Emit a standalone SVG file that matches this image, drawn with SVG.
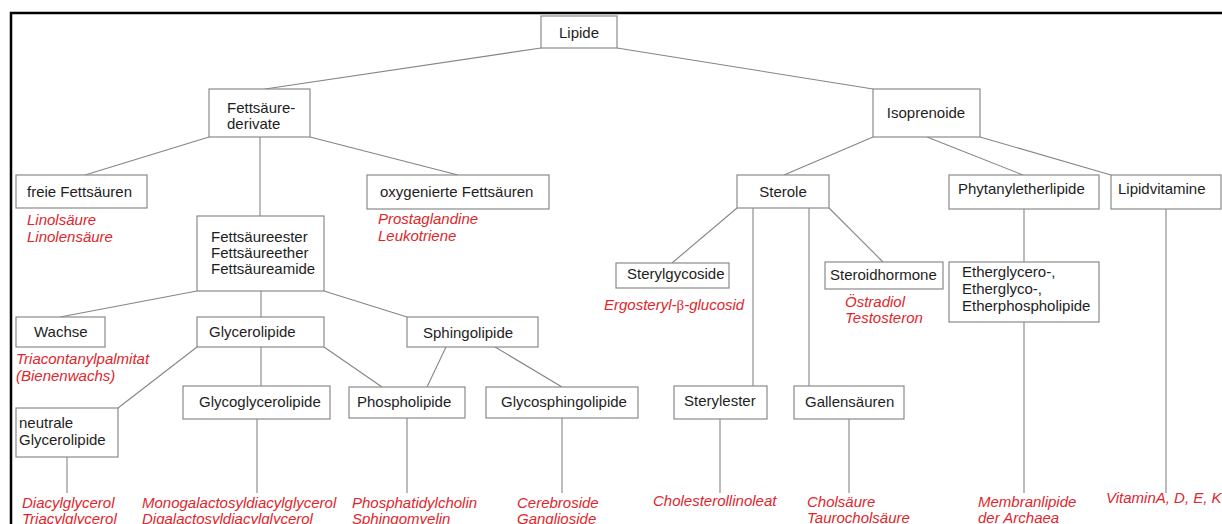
<svg xmlns="http://www.w3.org/2000/svg" width="1222" height="524" viewBox="0 0 1222 524">
<style>
.box{fill:#fff;stroke:#8a8a8a;stroke-width:1.2}
.t{font-family:"Liberation Sans",Arial,sans-serif;font-size:15px;fill:#1e1e1e}
.m{text-anchor:middle}
.r{font-family:"Liberation Sans",Arial,sans-serif;font-size:15px;font-style:italic;fill:#e0262c}
.c{stroke:#858585;stroke-width:1.1;fill:none}
.b{font-family:"Liberation Serif","Times New Roman",serif;font-style:normal}
</style>
<rect width="1222" height="524" fill="#fff"/>
<path d="M11,524 V13 H1222" fill="none" stroke="#000" stroke-width="2.5"/>
<g id="connectors">
<line class="c" x1="541" y1="48" x2="265" y2="89"/>
<line class="c" x1="617" y1="48" x2="873" y2="89"/>
<line class="c" x1="209" y1="137" x2="85" y2="175"/>
<line class="c" x1="260" y1="137" x2="260" y2="216"/>
<line class="c" x1="310" y1="137" x2="458" y2="175"/>
<line class="c" x1="873" y1="137" x2="784" y2="175"/>
<line class="c" x1="927" y1="137" x2="1023" y2="175"/>
<line class="c" x1="980" y1="137" x2="1111" y2="175"/>
<line class="c" x1="737" y1="208" x2="672" y2="263"/>
<line class="c" x1="753" y1="208" x2="753" y2="386"/>
<line class="c" x1="809" y1="208" x2="809" y2="386"/>
<line class="c" x1="829" y1="208" x2="883" y2="262"/>
<line class="c" x1="1024" y1="209" x2="1024" y2="262"/>
<line class="c" x1="1024" y1="322" x2="1024" y2="493"/>
<line class="c" x1="1166" y1="209" x2="1166" y2="493"/>
<line class="c" x1="197" y1="291" x2="60" y2="317"/>
<line class="c" x1="261" y1="291" x2="261" y2="317"/>
<line class="c" x1="324" y1="291" x2="407" y2="317"/>
<line class="c" x1="197" y1="347" x2="118" y2="408"/>
<line class="c" x1="261" y1="347" x2="261" y2="386"/>
<line class="c" x1="324" y1="347" x2="382" y2="387"/>
<line class="c" x1="446" y1="347" x2="427" y2="387"/>
<line class="c" x1="495" y1="347" x2="562" y2="387"/>
<line class="c" x1="67" y1="457" x2="67" y2="493"/>
<line class="c" x1="257" y1="419" x2="257" y2="493"/>
<line class="c" x1="407" y1="418" x2="407" y2="493"/>
<line class="c" x1="562" y1="418" x2="562" y2="493"/>
<line class="c" x1="720" y1="419" x2="720" y2="493"/>
<line class="c" x1="849" y1="419" x2="849" y2="493"/>
</g>
<g id="lipide"><rect class="box" x="541" y="16" width="76" height="32"/><text class="t m" x="579" y="38">Lipide</text></g>
<g id="fettsaeurederivate"><rect class="box" x="209" y="89" width="101" height="48"/><text class="t" x="227" y="113">Fettsäure-</text><text class="t" x="227" y="129">derivate</text></g>
<g id="isoprenoide"><rect class="box" x="873" y="89" width="107" height="48"/><text class="t m" x="926" y="118">Isoprenoide</text></g>
<g id="freie"><rect class="box" x="16" y="175" width="131" height="33"/><text class="t" x="27" y="197">freie Fettsäuren</text>
<text class="r" x="27" y="225">Linolsäure</text><text class="r" x="27" y="242">Linolensäure</text></g>
<g id="oxygenierte"><rect class="box" x="367" y="175" width="182" height="34"/><text class="t" x="380" y="197">oxygenierte Fettsäuren</text>
<text class="r" x="378" y="224">Prostaglandine</text><text class="r" x="378" y="241">Leukotriene</text></g>
<g id="fettsaeureester"><rect class="box" x="197" y="216" width="127" height="75"/><text class="t" x="211" y="242">Fettsäureester</text><text class="t" x="211" y="258">Fettsäureether</text><text class="t" x="211" y="274">Fettsäureamide</text></g>
<g id="sterole"><rect class="box" x="737" y="175" width="92" height="33"/><text class="t m" x="783" y="197">Sterole</text></g>
<g id="phytanyletherlipide"><rect class="box" x="949" y="175" width="150" height="34"/><text class="t" x="958" y="194">Phytanyletherlipide</text></g>
<g id="lipidvitamine"><rect class="box" x="1111" y="175" width="110" height="34"/><text class="t" x="1118" y="194">Lipidvitamine</text>
<text class="r" x="1106" y="503">VitaminA, D, E, K</text></g>
<g id="sterylgycoside"><rect class="box" x="616" y="263" width="113" height="25"/><text class="t" x="627" y="279">Sterylgycoside</text>
<text class="r" x="604" y="310">Ergosteryl-<tspan class="b">β</tspan>-glucosid</text></g>
<g id="steroidhormone"><rect class="box" x="825" y="262" width="118" height="27"/><text class="t" x="830" y="280">Steroidhormone</text>
<text class="r" x="845" y="307">Östradiol</text><text class="r" x="845" y="323">Testosteron</text></g>
<g id="etherlipide"><rect class="box" x="949" y="262" width="150" height="60"/><text class="t" x="962" y="277">Etherglycero-,</text><text class="t" x="962" y="294">Etherglyco-,</text><text class="t" x="962" y="311">Etherphospholipide</text>
<text class="r" x="978" y="507">Membranlipide</text><text class="r" x="978" y="523">der Archaea</text></g>
<g id="wachse"><rect class="box" x="16" y="317" width="89" height="30"/><text class="t" x="34" y="337">Wachse</text>
<text class="r" x="16" y="364">Triacontanylpalmitat</text><text class="r" x="16" y="381">(Bienenwachs)</text></g>
<g id="glycerolipide"><rect class="box" x="197" y="317" width="127" height="30"/><text class="t" x="209" y="337">Glycerolipide</text></g>
<g id="sphingolipide"><rect class="box" x="407" y="317" width="131" height="30"/><text class="t" x="423" y="338">Sphingolipide</text></g>
<g id="neutrale"><rect class="box" x="16" y="408" width="102" height="49"/><text class="t" x="19" y="428">neutrale</text><text class="t" x="19" y="445">Glycerolipide</text>
<text class="r" x="22" y="508">Diacylglycerol</text><text class="r" x="22" y="524">Triacylglycerol</text></g>
<g id="glycoglycerolipide"><rect class="box" x="183" y="386" width="147" height="33"/><text class="t" x="199" y="407">Glycoglycerolipide</text>
<text class="r" x="142" y="508">Monogalactosyldiacylglycerol</text><text class="r" x="142" y="524">Digalactosyldiacylglycerol</text></g>
<g id="phospholipide"><rect class="box" x="349" y="387" width="116" height="31"/><text class="t" x="357" y="407">Phospholipide</text>
<text class="r" x="352" y="508">Phosphatidylcholin</text><text class="r" x="352" y="524">Sphingomyelin</text></g>
<g id="glycosphingolipide"><rect class="box" x="486" y="387" width="152" height="31"/><text class="t" x="501" y="407">Glycosphingolipide</text>
<text class="r" x="517" y="508">Cerebroside</text><text class="r" x="517" y="524">Ganglioside</text></g>
<g id="sterylester"><rect class="box" x="674" y="386" width="93" height="33"/><text class="t" x="684" y="406">Sterylester</text>
<text class="r" x="653" y="506">Cholesterollinoleat</text></g>
<g id="gallensaeuren"><rect class="box" x="794" y="386" width="110" height="33"/><text class="t" x="805" y="407">Gallensäuren</text>
<text class="r" x="807" y="507">Cholsäure</text><text class="r" x="807" y="523">Taurocholsäure</text></g>
</svg>
